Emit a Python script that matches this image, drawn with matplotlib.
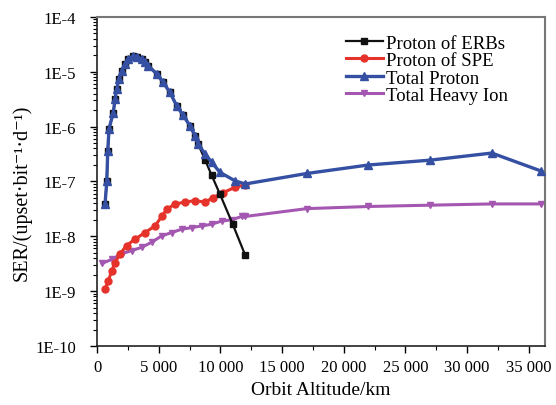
import matplotlib
matplotlib.use("Agg")
import matplotlib.pyplot as plt
from matplotlib.ticker import FixedLocator, LogLocator, NullFormatter

plt.rcParams['font.family'] = ['Liberation Serif', 'DejaVu Serif']

# ---- data ----
tp_alt = [650, 790, 870, 970, 1320, 1460, 1600, 1780, 2000, 2270, 2540, 2940,
          3220, 3620, 3890, 4160, 4840, 5370, 5910, 6460, 6990, 7530, 7940,
          8200, 8750, 9290, 9960, 11180, 12000, 17000, 22000, 27000, 32000, 36000]
tp_ser = [3.9e-8, 1.0e-7, 3.6e-7, 9.1e-7, 1.8e-6, 3.2e-6, 4.9e-6, 7.4e-6, 1.05e-5,
          1.38e-5, 1.7e-5, 1.95e-5, 1.9e-5, 1.7e-5, 1.5e-5, 1.3e-5, 9.1e-6, 6.4e-6,
          4.2e-6, 2.4e-6, 1.6e-6, 1.04e-6, 6.8e-7, 4.8e-7, 3.2e-7, 2.25e-7, 1.47e-7,
          1.03e-7, 9.0e-8, 1.4e-7, 2.0e-7, 2.45e-7, 3.3e-7, 1.55e-7]

erb_alt = [650, 790, 870, 970, 1320, 1460, 1600, 1780, 2000, 2270, 2540, 2940,
           3220, 3620, 3890, 4160, 4840, 5370, 5910, 6460, 6990, 7530, 7940,
           8200, 8750, 9290, 9960, 11000, 12000]
erb_ser = [3.9e-8, 1.0e-7, 3.6e-7, 9.1e-7, 1.8e-6, 3.2e-6, 4.9e-6, 7.4e-6, 1.05e-5,
           1.38e-5, 1.7e-5, 1.95e-5, 1.9e-5, 1.7e-5, 1.5e-5, 1.3e-5, 9.1e-6, 6.4e-6,
           4.2e-6, 2.4e-6, 1.6e-6, 1.04e-6, 6.8e-7, 4.8e-7, 2.5e-7, 1.3e-7, 5.9e-8,
           1.66e-8, 4.6e-9]

spe_alt = [650, 920, 1190, 1460, 1860, 2400, 3080, 3890, 4700, 5240, 5640, 6320,
           7130, 7940, 8750, 9420, 10230, 11180, 12000]
spe_ser = [1.1e-9, 1.55e-9, 2.35e-9, 3.3e-9, 4.8e-9, 6.8e-9, 8.9e-9, 1.17e-8,
           1.55e-8, 2.3e-8, 3.1e-8, 3.9e-8, 4.2e-8, 4.5e-8, 4.2e-8, 5.1e-8, 6.3e-8,
           7.8e-8, 8.7e-8]

hi_alt = [400, 1190, 2000, 2810, 3620, 4430, 5240, 6050, 6860, 7670, 8480, 9290,
          10100, 10910, 11720, 12000, 17000, 22000, 27000, 32000, 36000]
hi_ser = [3.2e-9, 3.8e-9, 4.8e-9, 5.5e-9, 6.3e-9, 7.8e-9, 1.02e-8, 1.17e-8,
          1.35e-8, 1.44e-8, 1.55e-8, 1.66e-8, 1.9e-8, 2.0e-8, 2.3e-8, 2.3e-8,
          3.2e-8, 3.5e-8, 3.7e-8, 3.9e-8, 3.9e-8]

x_ticks = [0, 5000, 10000, 15000, 20000, 25000, 30000, 35000]
x_labels = ['0', '5 000', '10 000', '15 000', '20 000', '25 000', '30 000', '35 000']
y_ticks = [1e-10, 1e-9, 1e-8, 1e-7, 1e-6, 1e-5, 1e-4]
y_labels = ['1E-10', '1E-9', '1E-8', '1E-7', '1E-6', '1E-5', '1E-4']

fig = plt.figure(figsize=(5.56, 4.06), dpi=100)
ax = fig.add_axes([0.1745, 0.1453, 0.8055, 0.8104])

c_black = '#111111'
c_red = '#e5322b'
c_blue = '#3550a3'
c_purple = '#a457b0'

ax.plot(hi_alt, hi_ser, color=c_purple, marker='v', ms=5, lw=2.2,
        label='Total Heavy Ion', zorder=2)
ax.plot(spe_alt, spe_ser, color=c_red, marker='o', ms=5, lw=2.2,
        label='Proton of SPE', zorder=3)
ax.plot(erb_alt, erb_ser, color=c_black, marker='s', ms=4, lw=1.6,
        label='Proton of ERBs', zorder=4)
ax.plot(tp_alt, tp_ser, color=c_blue, marker='^', ms=5.5, lw=2.4,
        label='Total Proton', zorder=5)

ax.set_yscale('log')
ax.set_xlim(0, 36300)
ax.set_ylim(1e-10, 1e-4)
ax.xaxis.set_major_locator(FixedLocator(x_ticks))
ax.set_xticklabels(x_labels)
ax.xaxis.set_minor_locator(FixedLocator([2500 + 5000 * i for i in range(8)]))
ax.yaxis.set_major_locator(FixedLocator(y_ticks))
ax.set_yticklabels(y_labels)
ax.yaxis.set_minor_locator(LogLocator(base=10, subs=range(2, 10), numticks=20))
ax.yaxis.set_minor_formatter(NullFormatter())

ax.tick_params(axis='both', which='major', direction='out', length=5, width=1,
               labelsize=12, top=False, right=False)
ax.tick_params(axis='y', which='major', pad=10)
ax.tick_params(axis='x', which='major', pad=4)
ax.tick_params(axis='both', which='minor', direction='out', length=3, width=0.8,
               top=False, right=False)
for s in ['left', 'bottom']:
    ax.spines[s].set_linewidth(1.2)
    ax.spines[s].set_color('#222222')
for s in ['top', 'right']:
    ax.spines[s].set_linewidth(1.5)
    ax.spines[s].set_color('#777777')

ax.set_xlabel('Orbit Altitude/km', fontsize=14, labelpad=5)
ax.set_ylabel('SER/(upset\u00b7bit\u207b\u00b9\u00b7d\u207b\u00b9)', fontsize=14.5)
ax.yaxis.set_label_coords(-0.145, 0.47)

h, l = ax.get_legend_handles_labels()
order = [2, 1, 3, 0]
ax.legend([h[i] for i in order], [l[i] for i in order], loc='upper left',
          frameon=False, fontsize=13.5, handlelength=2.0, handletextpad=0.15,
          labelspacing=0.02, borderaxespad=0.0, borderpad=0.0,
          bbox_to_anchor=(0.555, 0.947))

fig.savefig('out.png', dpi=100)
